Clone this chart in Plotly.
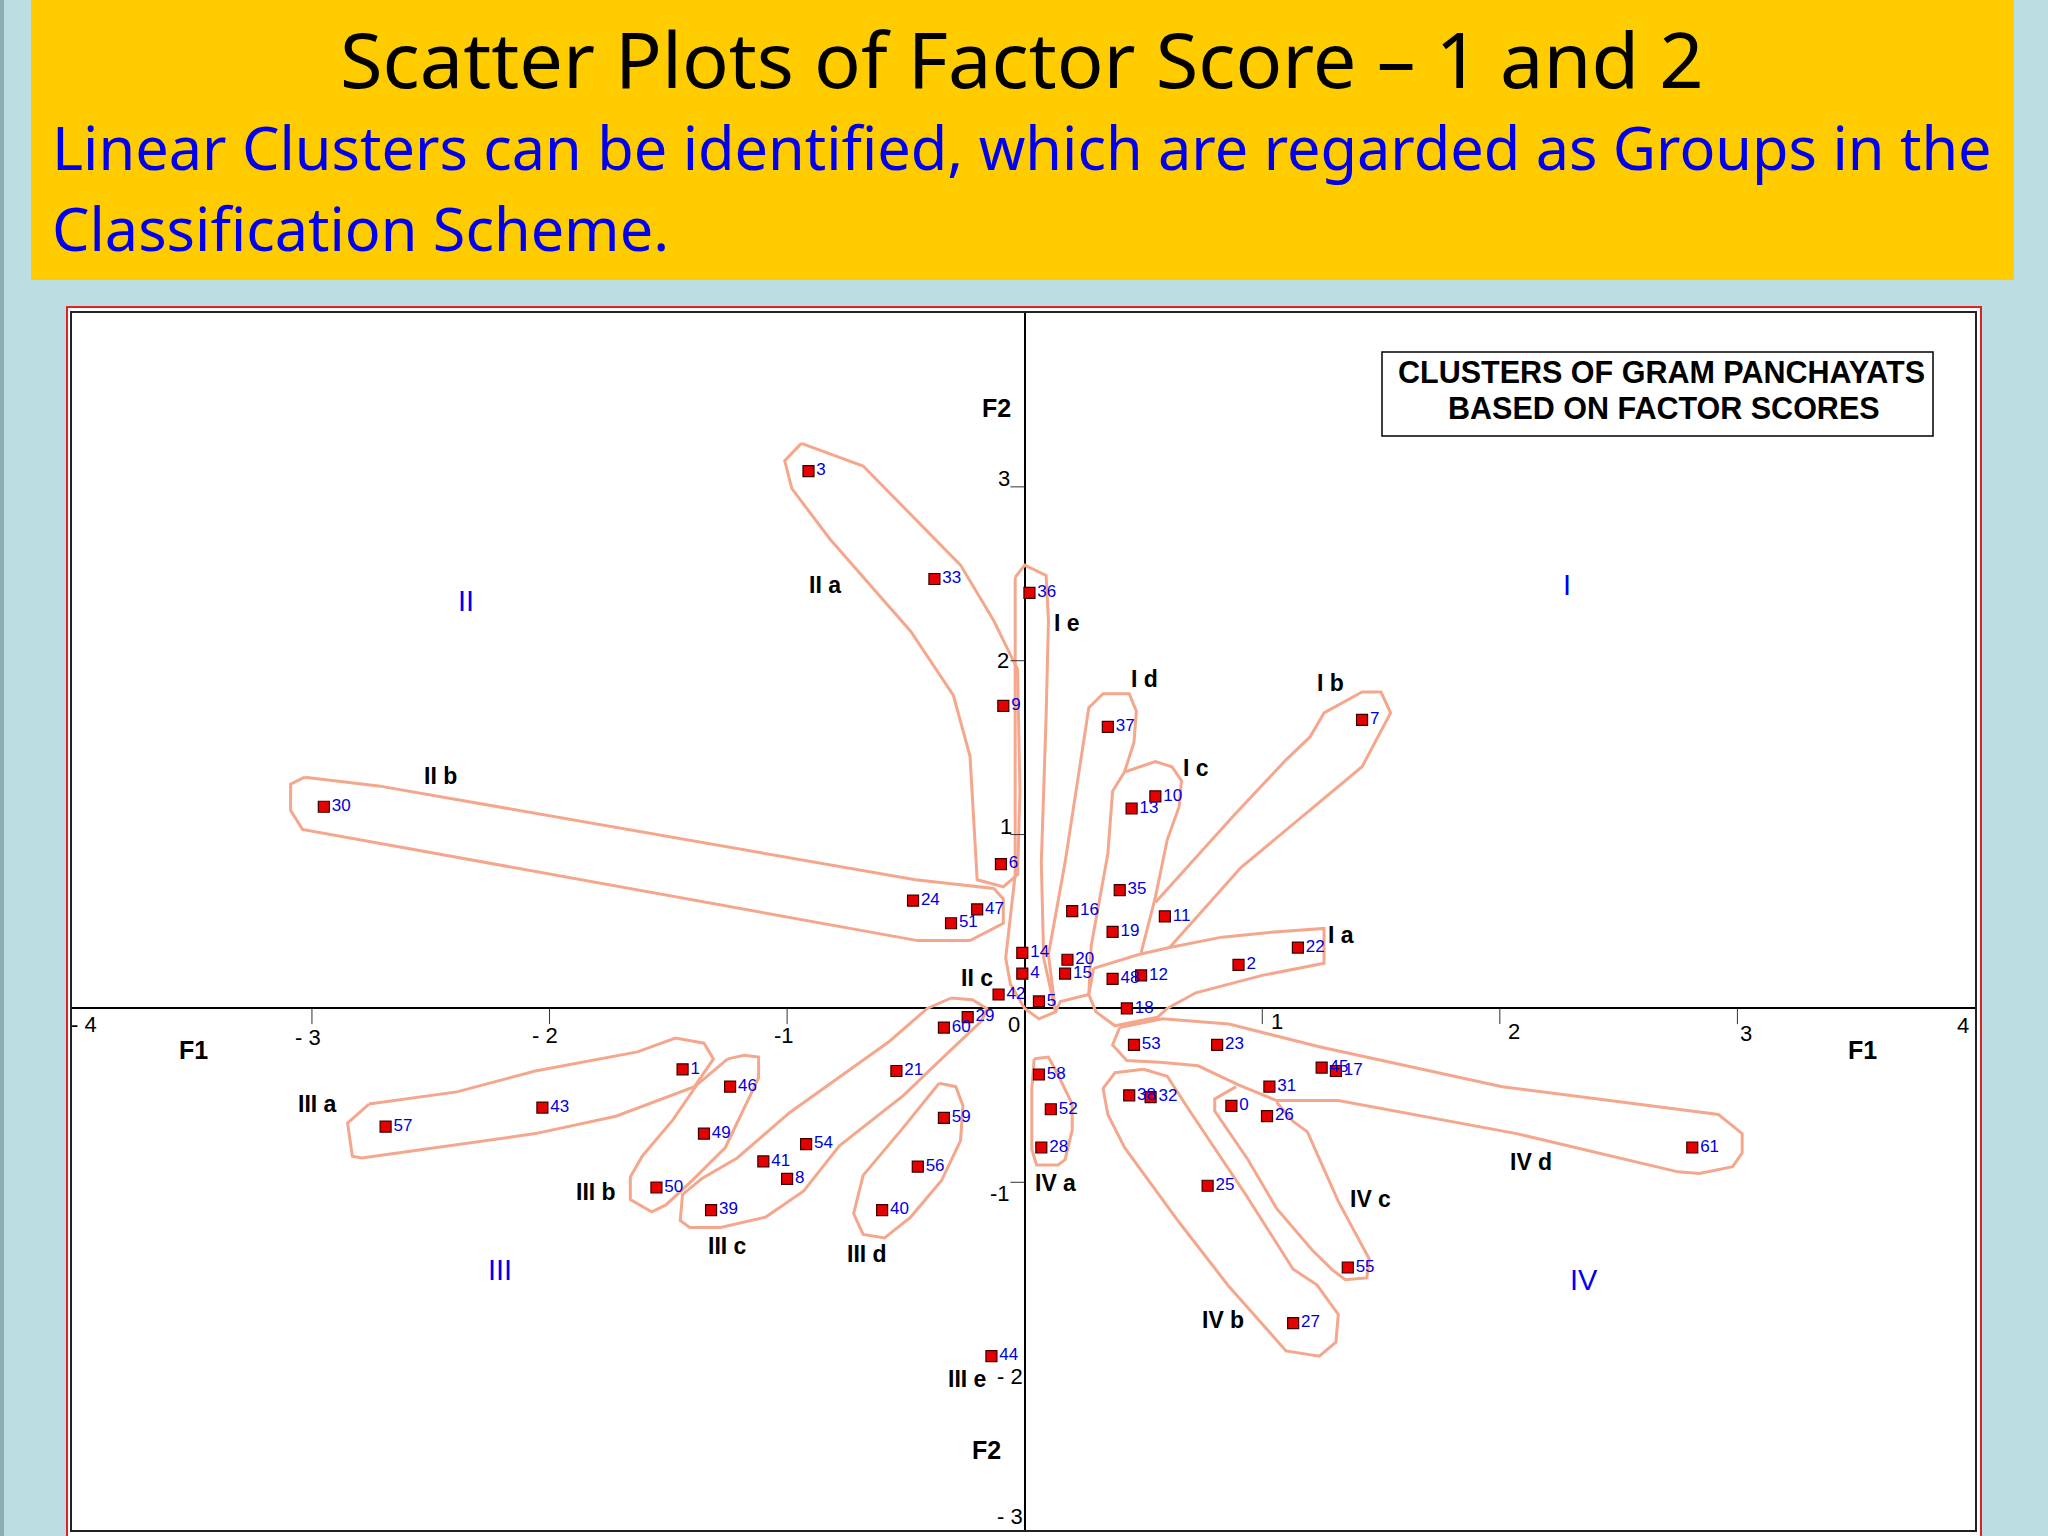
import plotly.graph_objects as go

# scores (no 34 in the original plot)
point_ids = [0, 1, 2, 3, 4, 5, 6, 7, 8, 9, 10, 11, 12, 13, 14, 15, 16, 17, 18, 19, 20,
             21, 22, 23, 24, 25, 26, 27, 28, 29, 30, 31, 32, 33, 35, 36, 37, 38, 39, 40,
             41, 42, 43, 44, 45, 46, 47, 48, 49, 50, 51, 52, 53, 54, 55, 56, 57, 58, 59, 60, 61]
f1 = [0.87, -1.44, 0.90, -0.91, -0.01, 0.06, -0.10, 1.42, -1.00, -0.09, 0.55, 0.59, 0.49, 0.45,
      -0.01, 0.17, 0.20, 1.31, 0.43, 0.37, 0.18, -0.54, 1.15, 0.81, -0.47, 0.77, 1.02, 1.13, 0.07,
      -0.24, -2.95, 1.03, 0.53, -0.38, 0.40, 0.02, 0.35, 0.44, -1.32, -0.60, -1.10, -0.11, -2.03,
      -0.14, 1.25, -1.24, -0.20, 0.37, -1.35, -1.55, -0.31, 0.11, 0.46, -0.92, 1.36, -0.45, -2.69,
      0.06, -0.34, -0.34, 2.81]
f2 = [-0.56, -0.35, 0.25, 3.09, 0.20, 0.04, 0.83, 1.66, -0.98, 1.74, 1.22, 0.53, 0.19, 1.15,
      0.32, 0.20, 0.56, -0.36, 0.00, 0.44, 0.28, -0.36, 0.35, -0.21, 0.62, -1.02, -0.62, -1.81, -0.80,
      -0.05, 1.16, -0.45, -0.51, 2.47, 0.68, 2.39, 1.62, -0.50, -1.16, -1.16, -0.88, 0.08, -0.57,
      -2.00, -0.34, -0.45, 0.57, 0.17, -0.72, -1.03, 0.49, -0.58, -0.21, -0.78, -1.49, -0.91, -0.68,
      -0.38, -0.63, -0.11, -0.80]

# hand drawn cluster outlines, in factor score units
ia_x = [0.29, 0.48, 0.61, 0.83, 1.05, 1.26, 1.26, 1.00, 0.72, 0.60, 0.56, 0.38, 0.30, 0.27, 0.29]
ia_y = [0.23, 0.31, 0.35, 0.41, 0.44, 0.46, 0.26, 0.19, 0.09, 0.00, -0.05, -0.10, -0.02, 0.08, 0.23]
ib_x = [0.55, 0.88, 1.10, 1.20, 1.26, 1.42, 1.50, 1.54, 1.42, 0.91, 0.61]
ib_y = [0.61, 1.11, 1.43, 1.56, 1.70, 1.82, 1.82, 1.70, 1.39, 0.81, 0.35]
ic_x = [0.49, 0.55, 0.60, 0.65, 0.66, 0.62, 0.55, 0.42, 0.37, 0.35, 0.28, 0.27]
ic_y = [0.32, 0.64, 0.97, 1.16, 1.31, 1.39, 1.42, 1.36, 1.25, 0.89, 0.36, 0.08]
id_x = [0.42, 0.46, 0.47, 0.44, 0.33, 0.27, 0.17, 0.10, 0.13, 0.15, 0.27]
id_y = [1.36, 1.53, 1.71, 1.81, 1.81, 1.73, 0.84, 0.31, -0.02, 0.04, 0.08]
ie_x = [-0.04, 0.00, 0.09, 0.10, 0.09, 0.07, 0.08, 0.13, 0.06, 0.00, -0.06, -0.08, -0.04, -0.04, -0.04, -0.04]
ie_y = [2.48, 2.55, 2.49, 2.23, 1.67, 0.84, 0.29, -0.02, -0.06, 0.00, 0.14, 0.29, 0.77, 1.95, 2.23, 2.48]
iia_x = [-0.94, -1.01, -0.98, -0.82, -0.66, -0.48, -0.30, -0.23, -0.20, -0.09, -0.03, -0.02, -0.03, -0.13, -0.27, -0.68, -0.94]
iia_y = [3.25, 3.15, 2.99, 2.70, 2.45, 2.17, 1.80, 1.45, 0.74, 0.70, 0.77, 1.25, 1.95, 2.23, 2.55, 3.12, 3.25]
iib_x = [-3.03, -3.09, -3.09, -3.04, -0.45, -0.23, -0.09, -0.09, -0.13, -0.46, -2.72, -3.03]
iib_y = [1.33, 1.29, 1.14, 1.03, 0.39, 0.39, 0.49, 0.63, 0.69, 0.74, 1.28, 1.33]
iiia_x = [-2.76, -2.39, -2.06, -1.63, -1.47, -1.35, -1.31, -1.39, -1.72, -2.06, -2.79, -2.83, -2.85, -2.76]
iiia_y = [-0.55, -0.48, -0.36, -0.25, -0.17, -0.20, -0.29, -0.45, -0.62, -0.72, -0.86, -0.85, -0.66, -0.55]
iiib_x = [-1.25, -1.18, -1.12, -1.12, -1.26, -1.40, -1.51, -1.57, -1.66, -1.66, -1.61, -1.48, -1.38, -1.25]
iiib_y = [-0.29, -0.27, -0.28, -0.40, -0.80, -0.99, -1.13, -1.17, -1.10, -0.97, -0.85, -0.64, -0.44, -0.29]
iiic_x = [-0.31, -0.22, -0.16, -0.18, -0.35, -0.51, -0.78, -0.93, -1.09, -1.28, -1.41, -1.45, -1.44, -1.36, -1.21, -0.99, -0.57, -0.41, -0.31]
iiic_y = [0.06, 0.05, 0.00, -0.07, -0.29, -0.50, -0.79, -1.05, -1.20, -1.26, -1.26, -1.22, -1.07, -0.98, -0.86, -0.60, -0.19, 0.00, 0.06]
iiid_x = [-0.36, -0.29, -0.26, -0.27, -0.35, -0.48, -0.59, -0.68, -0.72, -0.68, -0.52, -0.36]
iiid_y = [-0.43, -0.45, -0.56, -0.76, -0.99, -1.20, -1.32, -1.30, -1.18, -0.96, -0.70, -0.43]
iva_x = [0.04, 0.10, 0.14, 0.20, 0.20, 0.17, 0.14, 0.05, 0.03, 0.03, 0.04]
iva_y = [-0.29, -0.28, -0.38, -0.55, -0.70, -0.87, -0.90, -0.90, -0.81, -0.46, -0.29]
ivb_x = [0.50, 0.38, 0.33, 0.35, 0.42, 0.65, 0.86, 1.10, 1.24, 1.31, 1.32, 1.23, 1.13, 0.93, 0.69, 0.60, 0.50]
ivb_y = [-0.35, -0.37, -0.46, -0.61, -0.80, -1.23, -1.60, -1.97, -2.00, -1.92, -1.76, -1.59, -1.50, -1.07, -0.58, -0.39, -0.35]
ivc_x = [0.89, 0.80, 0.80, 0.94, 1.06, 1.21, 1.30, 1.35, 1.44, 1.45, 1.32, 1.19, 1.13, 1.06]
ivc_y = [-0.45, -0.52, -0.59, -0.87, -1.15, -1.39, -1.51, -1.56, -1.55, -1.44, -1.11, -0.71, -0.65, -0.54]
ivd_x = [0.40, 0.58, 0.86, 1.24, 2.01, 2.92, 3.02, 3.02, 2.98, 2.84, 2.75, 2.07, 1.32, 1.06, 0.90, 0.73, 0.57, 0.43, 0.37, 0.40]
ivd_y = [-0.11, -0.06, -0.09, -0.22, -0.45, -0.61, -0.72, -0.83, -0.91, -0.95, -0.94, -0.72, -0.53, -0.53, -0.44, -0.33, -0.31, -0.30, -0.21, -0.11]

outlines = [(ia_x, ia_y), (ib_x, ib_y), (ic_x, ic_y), (id_x, id_y), (ie_x, ie_y),
            (iia_x, iia_y), (iib_x, iib_y),
            (iiia_x, iiia_y), (iiib_x, iiib_y), (iiic_x, iiic_y), (iiid_x, iiid_y),
            (iva_x, iva_y), (ivb_x, ivb_y), (ivc_x, ivc_y), (ivd_x, ivd_y)]

xtick_vals = [-3, -2, -1, 1, 2, 3]
ytick_vals = [3, 2, 1, -1]

W = 2048
H = 1536
S = W / 1568  # label spots below were measured on a 1568 wide view
LABEL_FONT = "Liberation Sans"

tick_labels = [("- 4", 64, 784), ("- 3", 236, 794), ("- 2", 417, 793), ("-1", 600, 793), ("0", 776, 784),
               ("1", 978, 782), ("2", 1159, 790), ("3", 1337, 791), ("4", 1503, 785),
               ("3", 769, 366), ("2", 768, 506), ("1", 770, 633), ("-1", 766, 914), ("- 2", 773, 1054), ("- 3", 773, 1161)]
axis_labels = [("F1", 148, 804), ("F1", 1426, 804), ("F2", 763, 312), ("F2", 755, 1110)]
group_labels = [("II a", 632, 448), ("II b", 337, 594), ("II c", 748, 749), ("I a", 1027, 716), ("I b", 1019, 523),
                ("I c", 916, 588), ("I d", 876, 520), ("I e", 817, 477), ("III a", 243, 845), ("III b", 456, 913),
                ("III c", 557, 954), ("III d", 664, 960), ("III e", 740, 1056), ("IV a", 808, 906), ("IV b", 936, 1011),
                ("IV c", 1049, 918), ("IV d", 1172, 890)]
quadrant_labels = [("I", 1200, 448), ("II", 357, 460), ("III", 383, 972), ("IV", 1213, 980)]

fig = go.Figure()

for xs, ys in outlines:
    fig.add_trace(go.Scatter(x=xs, y=ys, mode="lines", line=dict(color="#F4A78C", width=3), hoverinfo="skip"))

# short tick marks hanging off the crossing axes
for v in xtick_vals:
    fig.add_trace(go.Scatter(x=[v, v], y=[0, -0.09], mode="lines", line=dict(color="#333333", width=1), hoverinfo="skip"))
for v in ytick_vals:
    fig.add_trace(go.Scatter(x=[-0.06, 0], y=[v, v], mode="lines", line=dict(color="#333333", width=1), hoverinfo="skip"))

fig.add_trace(go.Scatter(x=f1, y=f2, mode="markers+text", text=[str(i) for i in point_ids],
                         textposition="middle right",
                         textfont=dict(family=LABEL_FONT, size=17, color="#0000DD"),
                         marker=dict(symbol="square", size=11, color="#E60000", line=dict(color="#3A0000", width=1.2))))


def px(x):
    return x / W


def py(y):
    return 1 - y / H


def rect(x0, y0, x1, y1, **kw):
    return dict(type="rect", xref="paper", yref="paper", x0=px(x0), x1=px(x1), y0=py(y0), y1=py(y1), layer="below", **kw)


shapes = [
    rect(0, 0, 4, H, fillcolor="#8FAEB3", line_width=0),
    rect(31, 0, 2014, 280, fillcolor="#FFCC00", line_width=0),
    rect(67, 307, 1981, 1560, fillcolor="white", line=dict(color="#E0202A", width=2)),
]

annotations = []


def add_text(text, x, y, size, color="black", family=LABEL_FONT, anchor="center"):
    annotations.append(dict(text=text, xref="paper", yref="paper", x=px(x), y=py(y), xanchor=anchor, yanchor="middle",
                            showarrow=False, font=dict(family=family, size=size, color=color)))


add_text("Scatter Plots of Factor Score – 1 and 2", 1022, 58, 77.5, family="Noto Sans")
add_text("Linear Clusters can be identified, which are regarded as Groups in the", 50, 147, 59.4, color="#0000EE", family="Noto Sans", anchor="left")
add_text("Classification Scheme.", 50, 228, 59.4, color="#0000EE", family="Noto Sans", anchor="left")

for t, x, y in tick_labels:
    add_text(t, x * S, y * S, 22)
for t, x, y in axis_labels:
    add_text("<b>" + t + "</b>", x * S, y * S, 25)
for t, x, y in group_labels:
    add_text("<b>" + t + "</b>", x * S, y * S, 23)
for t, x, y in quadrant_labels:
    add_text(t, x * S, y * S, 29, color="#0000EE")

add_text("<b>CLUSTERS OF GRAM PANCHAYATS</b>", 1661, 372, 30.5)
add_text("<b>BASED ON FACTOR SCORES</b>", 1664, 408, 30.5)

shapes.append(dict(type="rect", xref="paper", yref="paper", x0=px(1382), x1=px(1933), y0=py(352), y1=py(436),
                   line=dict(color="black", width=1.5), fillcolor="rgba(0,0,0,0)"))

axis_style = dict(showgrid=False, showticklabels=False, ticks="", zeroline=True, zerolinecolor="black", zerolinewidth=2,
                  showline=True, linecolor="#222222", linewidth=2, mirror=True)

fig.update_layout(
    width=W, height=H,
    margin=dict(l=0, r=0, t=0, b=0),
    paper_bgcolor="#BBDEE3",
    plot_bgcolor="white",
    showlegend=False,
    xaxis=dict(range=[-4.01, 4], domain=[px(72), px(1975)], **axis_style),
    yaxis=dict(range=[-3, 4], domain=[py(1530), py(313)], **axis_style),
    shapes=shapes,
    annotations=annotations,
)

fig.write_html("out.html", config={"displayModeBar": False},
               post_script="document.body.style.margin='0';document.body.style.overflow='hidden';")
